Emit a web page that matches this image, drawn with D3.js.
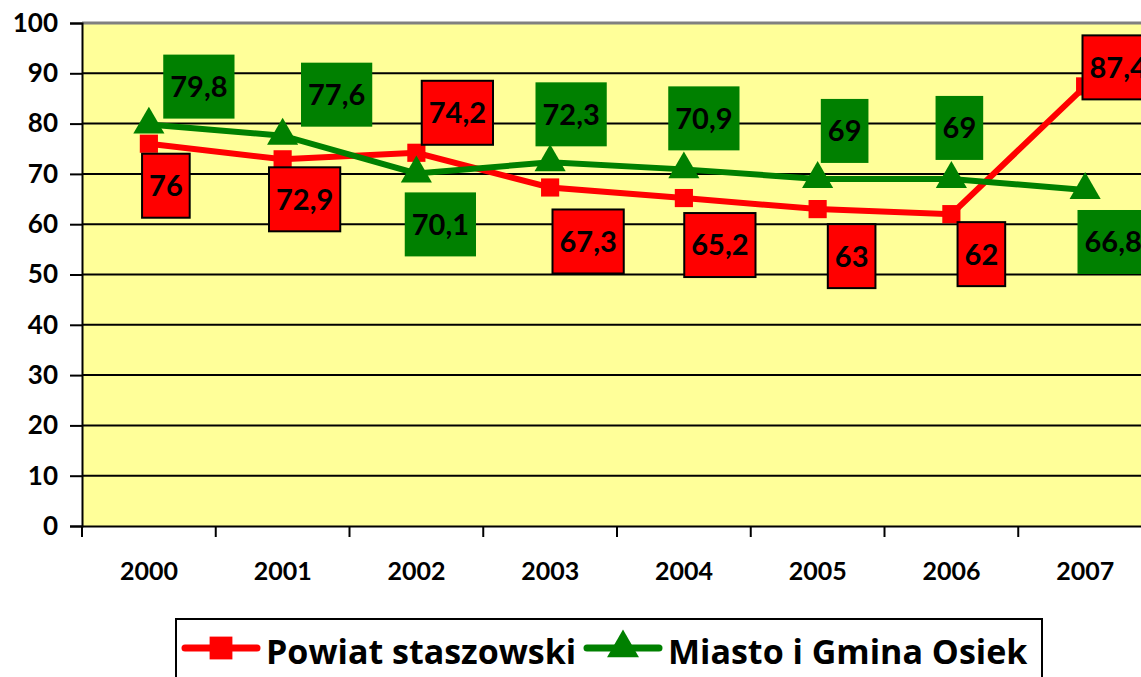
<!DOCTYPE html>
<html>
<head>
<meta charset="utf-8">
<script src="https://cdn.jsdelivr.net/npm/d3@7"></script>
<style>
  body { margin: 0; background: #fff; }
  svg { display: block; font-family: Lato, "Open Sans", sans-serif; font-weight: bold; }
</style>
</head>
<body>
<div id="mount"></div>
<script>
'use strict';

// chart data
const years = ['2000', '2001', '2002', '2003', '2004', '2005', '2006', '2007'];
const powiat = [76, 72.9, 74.2, 67.3, 65.2, 63, 62, 87.4];
const osiek = [79.8, 77.6, 70.1, 72.3, 70.9, 69, 69, 66.8];
const yTicks = [0, 10, 20, 30, 40, 50, 60, 70, 80, 90, 100];
const seriesNames = ['Powiat staszowski', 'Miasto i Gmina Osiek'];

// hand placed label boxes (offset of box centre from the point, px)
const powiatLabelPos = [[17, 42], [22, 40], [41, -40], [38, 54], [36, 47], [34, 47], [30, 40], [33, -19]];
const osiekLabelPos = [[50, -38], [54, -41], [24, 51], [21, -48], [20, -51], [27, -48], [8, -51], [28, 52]];

const W = 1141, H = 677;
const plot = { left: 82, top: 23, right: 1152, bottom: 526 };

const svg = d3.select('#mount').append('svg')
    .attr('width', W)
    .attr('height', H);

const x = d3.scaleBand().domain(years).range([plot.left, plot.right]);
const y = d3.scaleLinear().domain([0, 100]).range([plot.bottom, plot.top]);
const cx = d => x(d) + x.bandwidth() / 2;

// plot area
svg.append('rect')
    .attr('x', plot.left)
    .attr('y', plot.top)
    .attr('width', plot.right - plot.left)
    .attr('height', plot.bottom - plot.top)
    .attr('fill', '#ffff99');

// gridlines
svg.append('g').selectAll('line')
    .data(yTicks.filter(t => t > 0 && t < 100))
  .enter().append('line')
    .attr('x1', plot.left)
    .attr('x2', plot.right)
    .attr('y1', d => y(d))
    .attr('y2', d => y(d))
    .attr('stroke', '#000')
    .attr('stroke-width', 2);

svg.append('line')
    .attr('x1', plot.left)
    .attr('x2', plot.right)
    .attr('y1', y(100))
    .attr('y2', y(100))
    .attr('stroke', '#808080')
    .attr('stroke-width', 3);

// y axis
const yAxis = svg.append('g')
    .attr('transform', `translate(${plot.left},0)`)
    .call(d3.axisLeft(y).tickValues(yTicks).tickSize(12).tickPadding(12));
yAxis.select('.domain').attr('stroke', '#000').attr('stroke-width', 2);
yAxis.selectAll('.tick line').attr('stroke', '#000').attr('stroke-width', 2);
yAxis.selectAll('.tick text')
    .attr('fill', '#000')
    .style('font-family', 'Lato, sans-serif')
    .style('font-weight', 'bold')
    .style('font-size', '26px');

// x axis
const xAxis = svg.append('g')
    .attr('transform', `translate(0,${plot.bottom})`)
    .call(d3.axisBottom(x).tickSize(0).tickPadding(36));
xAxis.select('.domain').attr('stroke', '#000').attr('stroke-width', 2);
xAxis.selectAll('.tick text')
    .attr('fill', '#000')
    .style('font-family', 'Lato, sans-serif')
    .style('font-weight', 'bold')
    .style('font-size', '25px');
xAxis.selectAll('line.bound')
    .data(years)
  .enter().append('line')
    .attr('class', 'bound')
    .attr('x1', d => x(d))
    .attr('x2', d => x(d))
    .attr('y1', 0)
    .attr('y2', 11)
    .attr('stroke', '#000')
    .attr('stroke-width', 2);

const line = d3.line()
    .x((d, i) => cx(years[i]))
    .y(d => y(d));

const series = [
  { values: powiat, color: '#ff0000', marker: d3.symbolSquare, size: 330, labels: powiatLabelPos, border: true },
  { values: osiek, color: '#008000', marker: d3.symbolTriangle, size: 420, labels: osiekLabelPos, border: false }
];

// lines and markers
series.forEach(s => {
  svg.append('path')
      .datum(s.values)
      .attr('d', line)
      .attr('fill', 'none')
      .attr('stroke', s.color)
      .attr('stroke-width', 6);

  svg.append('g').selectAll('path')
      .data(s.values)
    .enter().append('path')
      .attr('d', d3.symbol().type(s.marker).size(s.size))
      .attr('transform', (d, i) => `translate(${cx(years[i])},${y(d)})`)
      .attr('fill', s.color);
});

// data labels
series.forEach(s => {
  const g = svg.append('g').selectAll('g')
      .data(s.values)
    .enter().append('g')
      .attr('transform', (d, i) => `translate(${cx(years[i]) + s.labels[i][0]},${y(d) + s.labels[i][1]})`);

  const txt = d => String(d).replace('.', ',');

  g.append('rect')
      .attr('fill', s.color)
      .attr('stroke', s.border ? '#000' : 'none')
      .attr('stroke-width', 2);

  g.append('text')
      .attr('text-anchor', 'middle')
      .attr('dy', '0.36em')
      .attr('fill', '#000')
      .style('font-size', '29px')
      .text(txt);

  g.each(function() {
    const t = d3.select(this).select('text').node().getComputedTextLength();
    const w = t + 14, h = 64;
    d3.select(this).select('rect')
        .attr('x', -w / 2)
        .attr('y', -h / 2)
        .attr('width', w)
        .attr('height', h);
  });
});

// legend
const legend = svg.append('g');
legend.append('rect')
    .attr('x', 176)
    .attr('y', 619)
    .attr('width', 866)
    .attr('height', 70)
    .attr('fill', '#fff')
    .attr('stroke', '#000')
    .attr('stroke-width', 2);

const legendItems = [
  { name: seriesNames[0], s: series[0], x0: 185, size: 520 },
  { name: seriesNames[1], s: series[1], x0: 587, size: 440 }
];
legendItems.forEach(it => {
  const g = legend.append('g').attr('transform', `translate(${it.x0},648)`);
  g.append('line')
      .attr('x1', 0).attr('x2', 72)
      .attr('stroke', it.s.color)
      .attr('stroke-width', 7)
      .attr('stroke-linecap', 'round');
  g.append('path')
      .attr('d', d3.symbol().type(it.s.marker).size(it.size))
      .attr('transform', 'translate(36,0)')
      .attr('fill', it.s.color);
  g.append('text')
      .attr('x', 81)
      .attr('y', 16)
      .attr('fill', '#000')
      .style('font-family', '"Open Sans", sans-serif')
      .style('font-size', '34px')
      .text(it.name);
});
</script>
</body>
</html>
